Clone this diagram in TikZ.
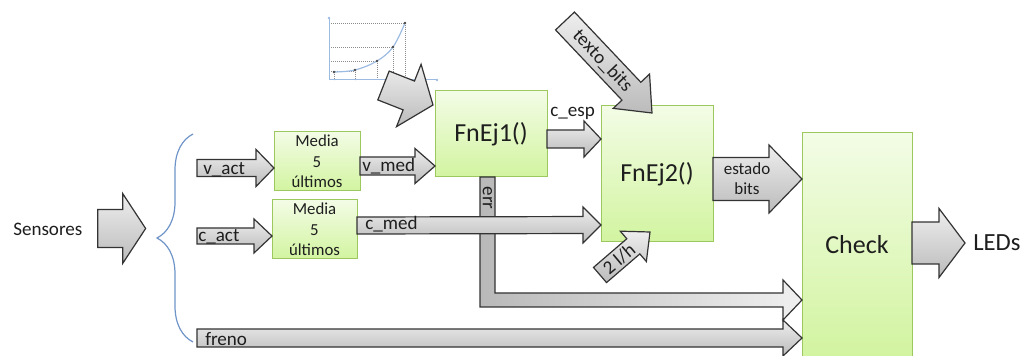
\documentclass[tikz,border=0pt]{standalone}
\usepackage{fontspec}
\setmainfont{Carlito}
\usetikzlibrary{calc,decorations.pathreplacing}

\definecolor{boxtop}{HTML}{F3FCE6}
\definecolor{boxbot}{HTML}{D2F4A0}
\definecolor{boxline}{HTML}{9DC860}
\definecolor{arrtop}{HTML}{EEEEEE}
\definecolor{arrbot}{HTML}{BBBBBB}
\definecolor{arrline}{HTML}{333333}
\definecolor{txt}{HTML}{1E1E1E}
\definecolor{bracecol}{HTML}{6F94C8}
\definecolor{axiscol}{HTML}{9CBBE2}
\definecolor{gridcol}{HTML}{8C8C8C}
\definecolor{ptcol}{HTML}{4A4A4A}

% block arrow: [options]{tail}{tip}{shaft width}{head width}{head length}, sizes in px
\newcommand\blockarrow[6][]{%
  \coordinate (ba-t) at (#2);
  \coordinate (ba-p) at (#3);
  \coordinate (ba-b) at ($(ba-p)!#6*0.75pt!(ba-t)$);
  \shade[barrow,#1]
    ($(ba-t)!#4*0.375pt!90:(ba-p)$) -- ($(ba-b)!#4*0.375pt!90:(ba-p)$) --
    ($(ba-b)!#5*0.375pt!90:(ba-p)$) -- (ba-p) --
    ($(ba-b)!#5*0.375pt!-90:(ba-p)$) -- ($(ba-b)!#4*0.375pt!-90:(ba-p)$) --
    ($(ba-t)!#4*0.375pt!-90:(ba-p)$) -- cycle;
}

\tikzset{
  fnbox/.style={draw=boxline, line width=0.75pt, top color=boxtop, bottom color=boxbot,
    inner sep=0pt, outer sep=0pt, text=txt, align=center},
  barrow/.style={draw=arrline, line width=0.9pt, top color=arrtop, bottom color=arrbot,
    line join=miter},
  lbl/.style={text=txt, inner sep=0pt, font=\fontsize{14.3}{17}\selectfont},
  smalltxt/.style={font=\fontsize{12.6}{15.4}\selectfont},
  bigtxt/.style={font=\fontsize{19.5}{23}\selectfont},
  gridline/.style={gridcol, line width=0.5pt, dash pattern=on 0.6pt off 0.9pt},
}

\begin{document}
\begin{tikzpicture}[x=0.75pt,y=-0.75pt]
\useasboundingbox (0,0) rectangle (1029,356);
\clip (0,0) rectangle (1029,356);

% small curve chart
\draw[gridline] (329,23) -- (405,23) (329,47) -- (393,47) (329,61) -- (377,61) (329,71) -- (355,71);
\draw[gridline] (334,72) -- (334,80) (355,70) -- (355,80) (377,61) -- (377,80)
  (393,47) -- (393,80) (405,23) -- (405,80);
\draw[axiscol, line width=0.75pt] (329,18) -- (329,80) -- (437,80);
\fill[axiscol] (329,18) circle (1.3) (437,80) circle (1.3);
\draw[axiscol, line width=0.9pt] plot[smooth, tension=0.6] coordinates {(334,72) (355,70) (377,61) (393,47) (405,23)};
\foreach \p in {(334,72),(355,70),(377,61),(393,47),(405,23)}
  \fill[ptcol] \p circle (1.4);

% processing blocks
\node[fnbox, smalltxt, minimum width=64.5pt, minimum height=44.25pt] (m1) at (317,161.5) {Media\\5\\últimos};
\node[fnbox, smalltxt, minimum width=63.75pt, minimum height=44.25pt] (m2) at (314.5,229.5) {Media\\5\\últimos};
\node[fnbox, bigtxt, minimum width=84pt, minimum height=64.5pt] (f1) at (491,134) {FnEj1()};
\node[fnbox, bigtxt, minimum width=84pt, minimum height=102pt] (f2) at (657,174) {FnEj2()};
\node[fnbox, bigtxt, minimum width=82.5pt, minimum height=168pt] (ck) at (857,245) {Check};

% outer labels
\node[lbl, anchor=west, font=\fontsize{14.3}{17}\selectfont] (sens) at (13,229) {Sensores};
\node[lbl, anchor=west, font=\fontsize{18.5}{22}\selectfont] (leds) at (973,243) {LEDs};
\coordinate (sens-t) at ($(sens.east)+(15,-0.5)$);
\coordinate (sens-p) at ($(sens.east)+(63,-0.5)$);
\coordinate (leds-p) at ($(leds.west)+(-8,0)$);

% sensor brace
\draw[bracecol, line width=0.9pt, decorate, decoration={brace, amplitude=27pt}] (193,342) -- (193,134);

% block arrows
\blockarrow{sens-t}{sens-p}{38}{70}{23}
\coordinate (inv) at (197,168);
\coordinate (inc) at (197,236);
\coordinate (inf) at (197,338);
\blockarrow{inv}{$(m1.west)+(0,6.5)$}{17}{37}{18}
\blockarrow{inc}{$(m2.west)+(0,6.5)$}{16}{34}{18}
\blockarrow{$(m1.east)+(0,4.5)$}{$(f1.west)+(0,32)$}{18}{35}{20}
\coordinate (ch) at (383.5,85.5);
\blockarrow{ch}{$(f1.north west)+(-2,14)$}{31}{67}{26}

% err output turning towards Check
\coordinate (e1) at ($(f1.south)+(-11,0)$);
\coordinate (e2) at ($(ck.west)+(0,55)$);
\shade[draw=arrline, line width=0.9pt, line join=miter, left color=gray!55, right color=gray!12]
  (e1) -- ($(e1)+(15,0)$) -- ($(e1)+(15,116)$) -- ($(e2)+(-19,-7)$) -- ($(e2)+(-19,-20)$)
  -- (e2) -- ($(e2)+(-19,20)$) -- ($(e2)+(-19,7)$) -- ($(e1)+(0,130)$) -- cycle;

\blockarrow{$(m2.east)+(0,-4)$}{$(f2.west)+(0,51)$}{17}{36}{18}
\blockarrow{$(f1.east)+(0,5)$}{$(f2.west)+(0,-35)$}{18}{36}{17}
\blockarrow{$(f2.east)+(0,5)$}{$(ck.west)+(0,-66)$}{43}{68}{33}
\blockarrow{inf}{$(ck.west)+(0,93)$}{18}{36}{19}
\blockarrow{$(ck.east)+(0,-2)$}{leds-p}{42}{69}{26}
\coordinate (tb) at (565,21);
\blockarrow{tb}{$(f2.north west)+(51,7)$}{26}{50}{30}
\coordinate (lh) at (600,275);
\blockarrow{lh}{$(f2.south west)+(49,-10)$}{20}{40}{22}

% arrow labels
\node[lbl, anchor=base west] (lva) at (203,175) {v\_act};
\node[lbl, anchor=base west] (lca) at (198,242) {c\_act};
\node[lbl, anchor=base west] (lvm) at (362,172) {v\_med};
\node[lbl, anchor=base west] (lcm) at (365,230) {c\_med};
\node[lbl, anchor=base west] (lfr) at (205,345) {freno};
\node[lbl, anchor=base west] (lce) at (550,117) {c\_esp};
\node[lbl, align=center, font=\fontsize{12.75}{15}\selectfont] (les) at (747,179) {estado\\bits};
\node[lbl, rotate=-90] (ler) at (487.5,198) {err};
\node[lbl, rotate=-46.6] (ltb) at (602.5,61) {texto\_bits};
\node[lbl, rotate=40] (llh) at (619,259) {2 l/h};
\end{tikzpicture}
\end{document}
